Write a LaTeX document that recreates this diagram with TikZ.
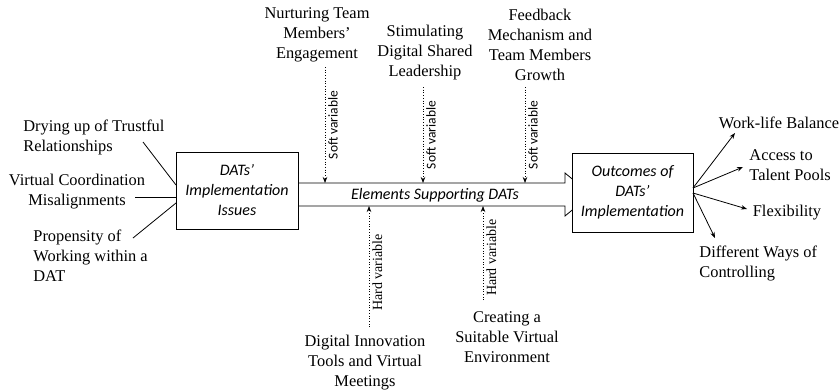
\documentclass[tikz,border=0pt]{standalone}
\usepackage{fontspec}
\setmainfont{Liberation Serif}
\newfontfamily\calibri{Carlito}
\usetikzlibrary{arrows.meta}
\begin{document}
\begin{tikzpicture}[>={Stealth[length=6pt,width=4.5pt]},x=1pt,y=-1pt,line width=0.8pt,
    factor/.style={font=\fontsize{16.4}{20}\selectfont,inner sep=0pt},
    box/.style={draw,fill=white,font=\calibri\itshape\fontsize{16}{20}\selectfont,align=center,inner sep=0pt},
    softlabel/.style={rotate=90,anchor=north,inner sep=3pt,font=\calibri\fontsize{13.5}{16}\selectfont},
    hardlabel/.style={rotate=90,anchor=north,inner sep=3pt,font=\fontsize{14}{16}\selectfont},
    link/.style={->,dotted,line width=0.7pt}]
    \useasboundingbox (0,0) rectangle (840,391);
    \draw (298,183) -- (565,183) -- (565,173) -- (591,194.5) -- (565,216) -- (565,206) -- (298,206);
    \node[box,minimum width=122pt,minimum height=77pt] (issues) at (237,190.5) {DATs’\\Implementation\\Issues};
    \node[box,minimum width=121pt,minimum height=79pt] (outcomes) at (632.5,192.5) {Outcomes of\\DATs’\\Implementation};
    \node[font=\calibri\itshape\fontsize{16}{20}\selectfont,inner sep=0pt] (elements) at (435,195) {Elements Supporting DATs};
    % left side
    \node[factor,align=left,anchor=west] (trust) at (23,137) {Drying up of Trustful\\Relationships};
    \node[factor,align=center] (coord) at (77,192) {Virtual Coordination\\Misalignments};
    \node[factor,align=left,anchor=west] (propensity) at (33,256) {Propensity of\\Working within a\\DAT};
    \coordinate (t1) at (143,142); \coordinate (i1) at (176,185);
    \coordinate (t2) at (135,197); \coordinate (i2) at (176,197);
    \coordinate (t3) at (133,238); \coordinate (i3) at (176,203);
    \draw (t1) -- (i1);
    \draw (t2) -- (i2);
    \draw (t3) -- (i3);
    % top
    \node[factor,align=center] (nurture) at (317,35) {Nurturing Team\\Members’\\Engagement};
    \node[factor,align=center] (leader) at (425,53) {Stimulating\\Digital Shared\\Leadership};
    \node[factor,align=center] (feedback) at (540,45) {Feedback\\Mechanism and\\Team Members\\Growth};
    \coordinate (n1) at (325,67); \coordinate (s1) at (325,183);
    \coordinate (n2) at (423,87); \coordinate (s2) at (423,183);
    \coordinate (n3) at (525,87); \coordinate (s3) at (525,183);
    \draw[link] (n1) -- node[softlabel] {Soft variable} (s1);
    \draw[link] (n2) -- node[softlabel] {Soft variable} (s2);
    \draw[link] (n3) -- node[softlabel] {Soft variable} (s3);
    % bottom
    \node[factor,align=center] (tools) at (365,363) {Digital Innovation\\Tools and Virtual\\Meetings};
    \node[factor,align=center] (environment) at (507,337) {Creating a\\Suitable Virtual\\Environment};
    \coordinate (h1) at (369,327); \coordinate (b1) at (369,206);
    \coordinate (h2) at (483,300); \coordinate (b2) at (483,206);
    \draw[link] (h1) -- node[hardlabel,pos=0.45] {Hard variable} (b1);
    \draw[link] (h2) -- node[hardlabel,pos=0.45] {Hard variable} (b2);
    % right side
    \node[factor] (balance) at (779,123) {Work-life Balance};
    \node[factor,align=left,anchor=west] (talent) at (749,165) {Access to\\Talent Pools};
    \node[factor] (flex) at (787,213) {Flexibility};
    \node[factor,align=left,anchor=west] (control) at (699,263) {Different Ways of\\Controlling};
    \coordinate (o1) at (693,188); \coordinate (o2) at (693,193);
    \coordinate (r1) at (735,133); \coordinate (r2) at (743,167);
    \coordinate (r3) at (747,209); \coordinate (r4) at (715,238);
    \draw[->] (o1) -- (r1);
    \draw[->] (o1) -- (r2);
    \draw[->] (o2) -- (r3);
    \draw[->] (o2) -- (r4);
\end{tikzpicture}
\end{document}
